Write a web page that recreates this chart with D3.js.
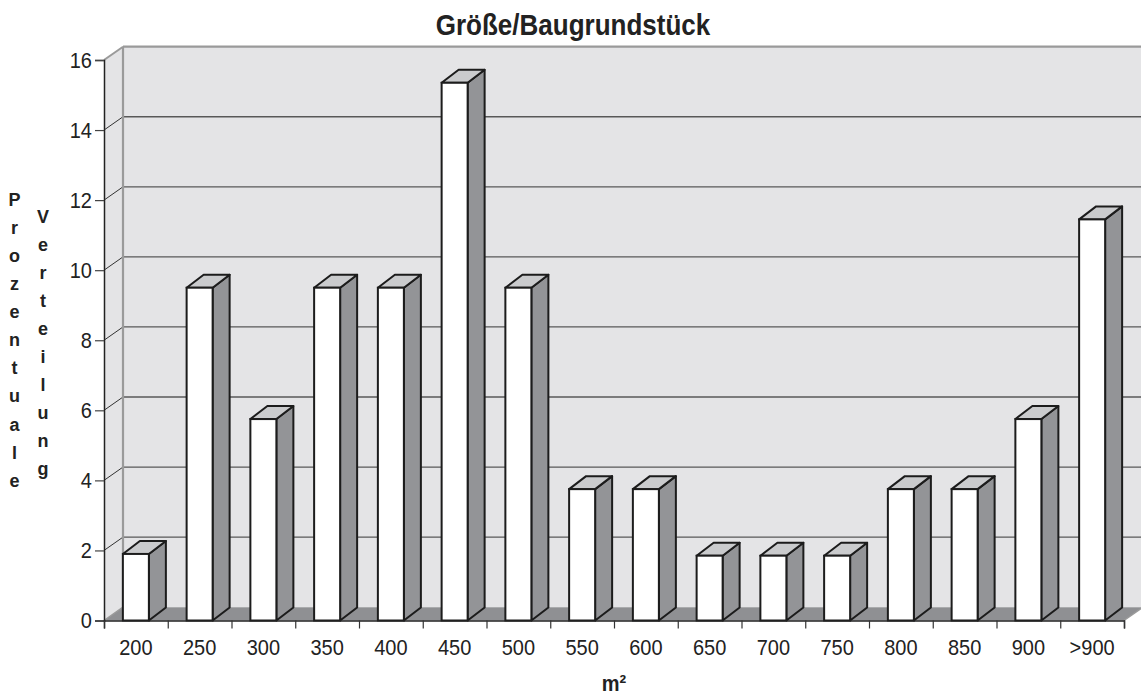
<!DOCTYPE html>
<html>
<head>
<meta charset="utf-8">
<script src="https://cdn.jsdelivr.net/npm/d3@7"></script>
<style>
  html, body { margin: 0; padding: 0; background: #fff; }
  svg { display: block; }
  text { font-family: "Liberation Sans", Arial, Helvetica, sans-serif; fill: #222; }
</style>
</head>
<body>
<svg id="chart" width="1141" height="696"></svg>
<script>
// ---- data ----
const categories = ["200","250","300","350","400","450","500","550","600","650","700","750","800","850","900",">900"];
const values = [1.9, 9.5, 5.75, 9.5, 9.5, 15.35, 9.5, 3.75, 3.75, 1.85, 1.85, 1.85, 3.75, 3.75, 5.75, 11.45];
const yTicks = [0, 2, 4, 6, 8, 10, 12, 14, 16];
const chartTitle = "Größe/Baugrundstück";
const xTitle = "m²";
const yTitle1 = "Prozentuale";
const yTitle2 = "Verteilung";

(function () {
// ---- layout ----
const svg = d3.select("#chart");
const pLeft = 104, pRight = 1124, pBottom = 620.5, pTop = 60;
const wallDx = 19, wallDy = -13.3;
const barDx = 17, barDy = -13;
const barW = 26;
const sY = 1.1; // vertical stretch of the text in the reference

const x = d3.scaleBand().domain(categories).range([pLeft, pRight]).padding(0);
const xLin = d3.scaleLinear().domain([0, categories.length]).range([pLeft, pRight]);
const y = d3.scaleLinear().domain([0, 16]).range([pBottom, pTop]);

const wallCol = "#e4e4e6", floorCol = "#8f9093", sideCol = "#939497", topCol = "#cacbcd";

const g = svg.append("g");
const pts = a => a.map(p => p.join(",")).join(" ");

// back wall
g.append("rect")
  .attr("x", pLeft + wallDx).attr("y", y(16) + wallDy)
  .attr("width", (pRight - pLeft) + 40).attr("height", y(0) - y(16))
  .attr("fill", wallCol);
// left side wall
g.append("polygon")
  .attr("points", pts([[pLeft, y(16)], [pLeft + wallDx, y(16) + wallDy], [pLeft + wallDx, y(0) + wallDy], [pLeft, y(0)]]))
  .attr("fill", wallCol);
// floor
g.append("polygon")
  .attr("points", pts([[pLeft, y(0)], [pRight, y(0)], [pRight + wallDx, y(0) + wallDy], [pLeft + wallDx, y(0) + wallDy]]))
  .attr("fill", floorCol);

// gridlines
const grid = yTicks.filter(v => v > 0 && v < 16);
g.selectAll("line.gh").data(grid).enter().append("line")
  .attr("x1", pLeft + wallDx).attr("x2", 1160)
  .attr("y1", d => y(d) + wallDy).attr("y2", d => y(d) + wallDy)
  .attr("stroke", "#585858").attr("stroke-width", 1.3);
g.selectAll("line.gd").data(grid).enter().append("line")
  .attr("x1", pLeft).attr("x2", pLeft + wallDx)
  .attr("y1", d => y(d)).attr("y2", d => y(d) + wallDy)
  .attr("stroke", "#333").attr("stroke-width", 1);

// wall borders
g.append("line").attr("x1", pLeft + wallDx).attr("x2", 1160)
  .attr("y1", y(16) + wallDy).attr("y2", y(16) + wallDy)
  .attr("stroke", "#9a9a9a").attr("stroke-width", 2.2);
g.append("line").attr("x1", pLeft + wallDx).attr("x2", pLeft + wallDx)
  .attr("y1", y(16) + wallDy).attr("y2", y(0) + wallDy)
  .attr("stroke", "#9a9a9a").attr("stroke-width", 2.2);
g.append("line").attr("x1", pLeft).attr("x2", pLeft + wallDx)
  .attr("y1", y(16)).attr("y2", y(16) + wallDy)
  .attr("stroke", "#9a9a9a").attr("stroke-width", 2);
g.append("line").attr("x1", pLeft).attr("x2", pLeft + wallDx)
  .attr("y1", y(0)).attr("y2", y(0) + wallDy)
  .attr("stroke", "#9a9a9a").attr("stroke-width", 1.5);
g.append("line").attr("x1", pRight).attr("x2", pRight + wallDx)
  .attr("y1", y(0)).attr("y2", y(0) + wallDy)
  .attr("stroke", "#9a9a9a").attr("stroke-width", 1.5);

// bars
const bars = g.selectAll("g.bar").data(categories.map((c, i) => ({ c, v: values[i] })))
  .enter().append("g").attr("class", "bar");
const bx0 = d => x(d.c) + x.bandwidth() / 2 - barW / 2;
const bx1 = d => bx0(d) + barW;
const stC = "#1c1c1c", stW = 2;
bars.append("polygon")
  .attr("points", d => pts([[bx1(d), y(d.v)], [bx1(d) + barDx, y(d.v) + barDy], [bx1(d) + barDx, y(0) + barDy], [bx1(d), y(0)]]))
  .attr("fill", sideCol).attr("stroke", stC).attr("stroke-width", stW).attr("stroke-linejoin", "round");
bars.append("polygon")
  .attr("points", d => pts([[bx0(d), y(d.v)], [bx0(d) + barDx, y(d.v) + barDy], [bx1(d) + barDx, y(d.v) + barDy], [bx1(d), y(d.v)]]))
  .attr("fill", topCol).attr("stroke", stC).attr("stroke-width", stW).attr("stroke-linejoin", "round");
bars.append("rect")
  .attr("x", bx0).attr("y", d => y(d.v))
  .attr("width", barW).attr("height", d => y(0) - y(d.v))
  .attr("fill", "#fff").attr("stroke", stC).attr("stroke-width", stW);

// y axis
const yAxis = svg.append("g").attr("transform", `translate(${pLeft},0)`)
  .call(d3.axisLeft(y).tickValues(yTicks).tickSize(9).tickPadding(3).tickFormat(d3.format("d")));
yAxis.select(".domain").attr("stroke", "#222").attr("stroke-width", 1.5);
yAxis.selectAll(".tick line").attr("stroke", "#444").attr("stroke-width", 1.2);
yAxis.selectAll(".tick text").attr("font-size", 20).attr("fill", "#222")
  .attr("font-family", "'Liberation Sans', Arial, sans-serif")
  .attr("transform", `scale(1,${sY})`);

// x axis: boundary ticks
const xTickAxis = svg.append("g").attr("transform", `translate(0,${pBottom})`)
  .call(d3.axisBottom(xLin).tickValues(d3.range(0, categories.length + 1)).tickSize(8).tickFormat(""));
xTickAxis.select(".domain").attr("stroke", "#222").attr("stroke-width", 1.5);
xTickAxis.selectAll(".tick line").attr("stroke", "#333").attr("stroke-width", 1.2);
// x axis: labels
const xLab = svg.append("g").attr("transform", `translate(0,${pBottom})`)
  .call(d3.axisBottom(x).tickSize(0).tickPadding(17));
xLab.select(".domain").remove();
xLab.selectAll(".tick text").attr("font-size", 20).attr("fill", "#222")
  .attr("font-family", "'Liberation Sans', Arial, sans-serif")
  .attr("transform", `scale(1,${sY})`);

// titles
svg.append("text").attr("transform", `translate(573,35) scale(1,${sY})`).attr("text-anchor", "middle")
  .attr("font-size", 26).attr("font-weight", "bold").text(chartTitle);
svg.append("text").attr("transform", `translate(${(pLeft + pRight) / 2},691) scale(1,${sY})`).attr("text-anchor", "middle")
  .attr("font-size", 20).attr("font-weight", "bold").text(xTitle);

const col = (letters, cx, y0, step) => {
  svg.append("g").selectAll("text").data(letters.split("")).enter().append("text")
    .attr("transform", (d, i) => `translate(${cx},${y0 + step * i}) scale(1,1.05)`)
    .attr("text-anchor", "middle").attr("font-size", 18).attr("font-weight", "bold")
    .text(d => d);
};
col(yTitle1, 14.5, 205.7, 28.1);
col(yTitle2, 43, 222.7, 28);
})();
</script>
</body>
</html>
